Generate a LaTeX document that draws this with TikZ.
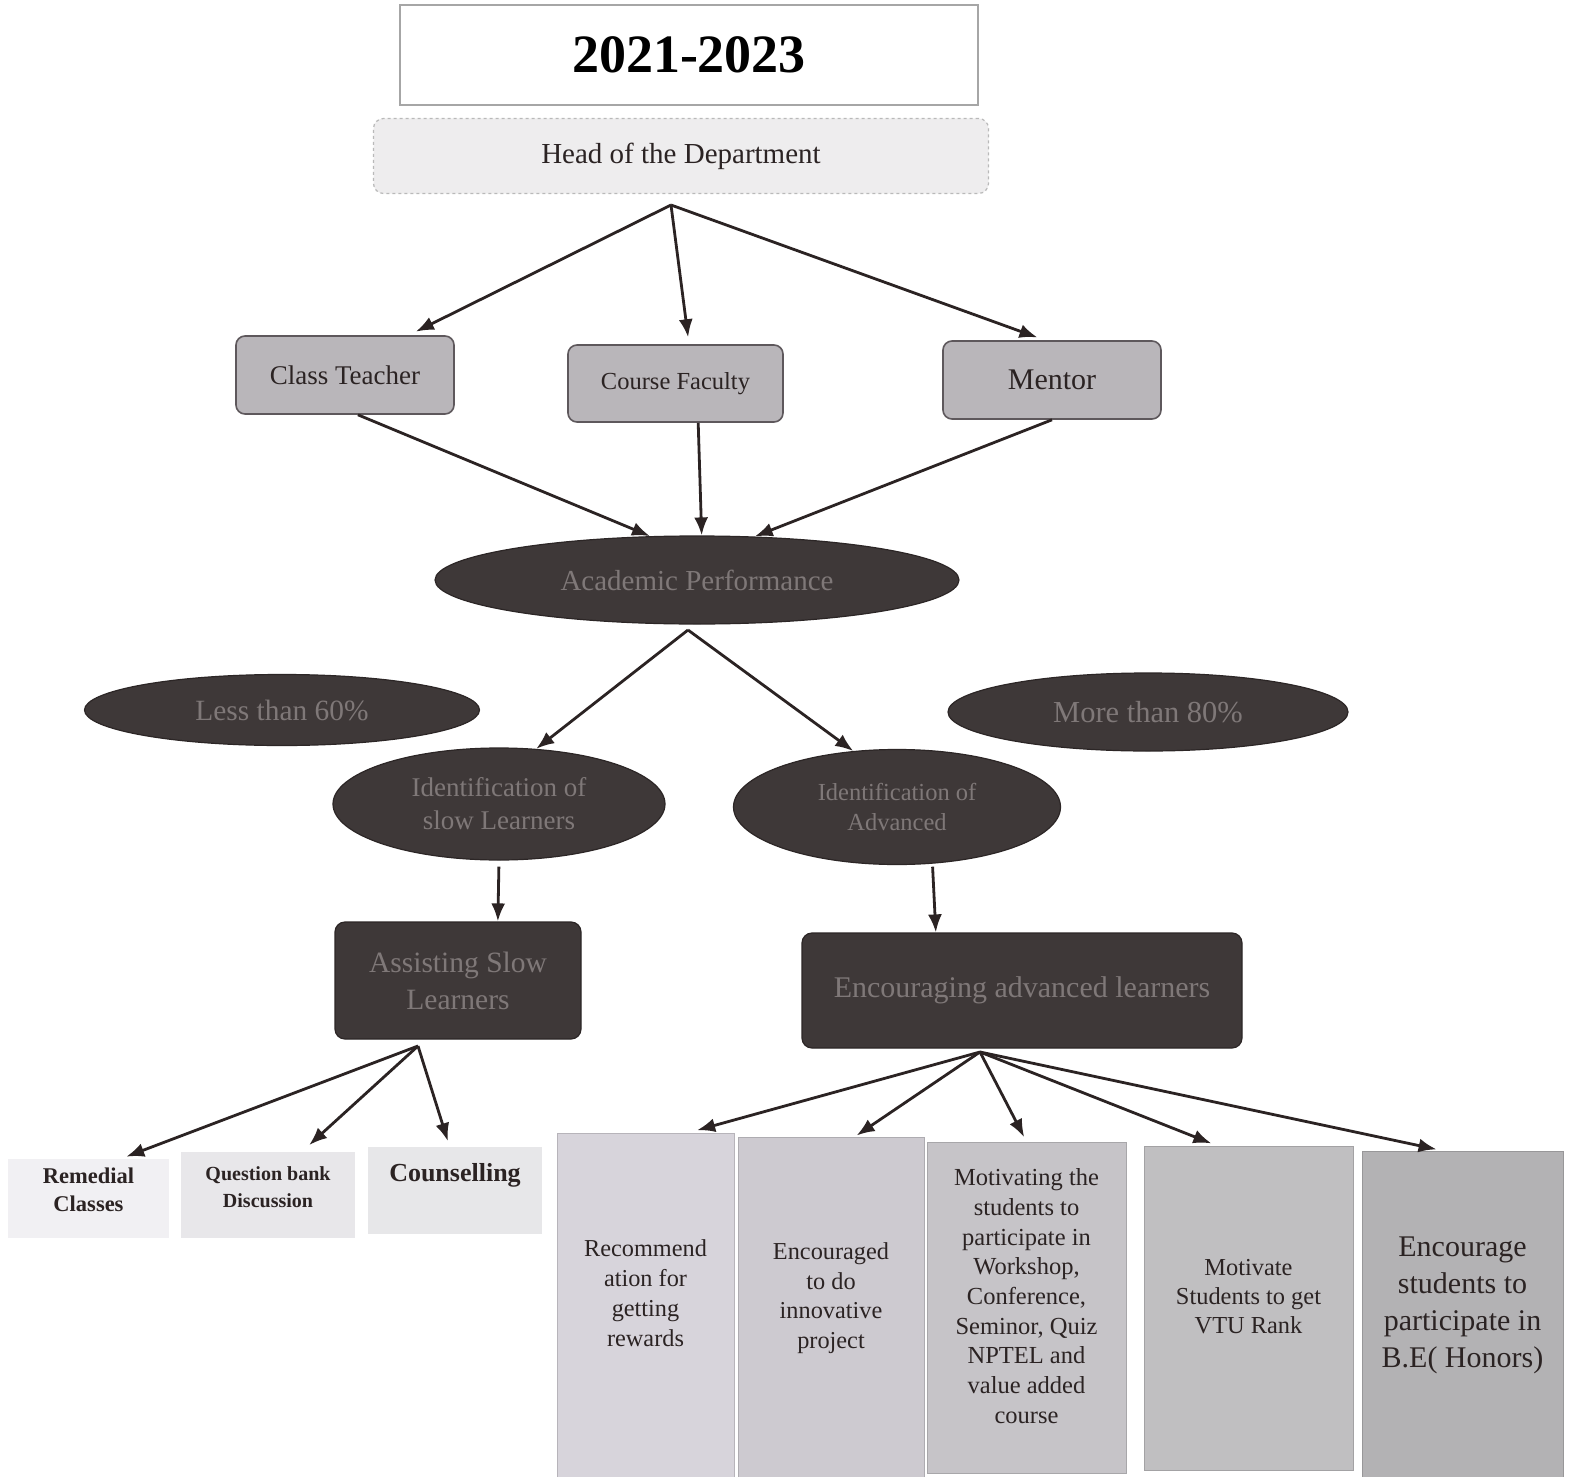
\documentclass[tikz,border=0pt]{standalone}
\usepackage{fontspec}
\setmainfont{Liberation Serif}
\usetikzlibrary{shapes.geometric,arrows.meta}
\definecolor{inkcol}{HTML}{2B2323}
\definecolor{hodcol}{HTML}{EEEDEE}
\definecolor{staffcol}{HTML}{B9B6BA}
\definecolor{edgecol}{HTML}{5E585C}
\definecolor{darkcol}{HTML}{3E3838}
\definecolor{darkedge}{HTML}{2C2626}
\definecolor{dimtext}{HTML}{7F7878}
\definecolor{remcol}{HTML}{F1F0F3}
\definecolor{qbcol}{HTML}{E8E7EA}
\definecolor{cocol}{HTML}{E7E7E9}
\definecolor{rwdcol}{HTML}{D7D4DB}
\definecolor{projcol}{HTML}{CDCAD0}
\definecolor{confcol}{HTML}{C6C4C8}
\definecolor{rankcol}{HTML}{C0BFC1}
\definecolor{honcol}{HTML}{B3B2B4}

\begin{document}
\begin{tikzpicture}[x=1pt,y=-1pt,
	arr/.style={draw=inkcol, line width=2.8pt, -{Latex[length=18pt,width=14pt]}},
	yearbox/.style={rectangle, draw=gray!70, line width=1.2pt, fill=white, inner sep=0pt, text=black},
	hodbox/.style={rectangle, rounded corners=10pt, draw=gray!55, dashed, line width=1.2pt, fill=hodcol, inner sep=0pt, text=inkcol},
	staffbox/.style={rectangle, rounded corners=9pt, draw=edgecol, line width=1.6pt, fill=staffcol, inner sep=0pt, text=inkcol},
	darkoval/.style={ellipse, draw=darkedge, line width=1.2pt, fill=darkcol, inner sep=0pt, text=dimtext, align=center},
	darkbox/.style={rectangle, rounded corners=10pt, draw=darkedge, line width=1.2pt, fill=darkcol, inner sep=0pt, text=dimtext, align=center},
	softbox/.style={rectangle, fill=#1, inner sep=0pt, text=inkcol, align=center},
	tallbox/.style={rectangle, fill=#1, draw=#1!85!black, line width=0.8pt, inner sep=0pt, text=inkcol, align=center, text depth=23pt}]
			\useasboundingbox (0,0) rectangle (1580,1477);
			\fill[white] (0,0) rectangle (1580,1477);
			\node[yearbox, minimum width=578pt, minimum height=100pt, font=\bfseries\fontsize{54}{60}\selectfont] (yr) at (689,55) {2021-2023};
			\node[hodbox, minimum width=615pt, minimum height=75pt, font=\fontsize{29}{34}\selectfont] (hod) at (681,156) {Head of the Department};
			\node[staffbox, minimum width=218pt, minimum height=78pt, font=\fontsize{27}{32}\selectfont] (ct) at (345,375) {Class Teacher};
			\node[staffbox, minimum width=215pt, minimum height=77pt, font=\fontsize{24.5}{30}\selectfont] (cf) at (675.5,383.5) {Course Faculty};
			\node[staffbox, minimum width=218pt, minimum height=78pt, font=\fontsize{30}{35}\selectfont] (men) at (1052,380) {Mentor};
			\node[darkoval, minimum width=524pt, minimum height=88pt, font=\fontsize{29}{34}\selectfont] (ap) at (697,580) {Academic Performance};
			\node[darkoval, minimum width=395pt, minimum height=71pt, font=\fontsize{29.4}{34}\selectfont] (low) at (282,710) {Less than 60\%};
			\node[darkoval, minimum width=400pt, minimum height=78pt, font=\fontsize{30.5}{35}\selectfont] (high) at (1148,712) {More than 80\%};
			\node[darkoval, minimum width=332pt, minimum height=112pt, font=\fontsize{27}{33}\selectfont] (slow) at (499,804) {Identification of\\slow Learners};
			\node[darkoval, minimum width=327pt, minimum height=115pt, font=\fontsize{24.5}{30}\selectfont] (adv) at (897,807) {Identification of\\Advanced};
			\node[darkbox, minimum width=246pt, minimum height=117pt, font=\fontsize{29.5}{37}\selectfont] (assist) at (458,980.5) {Assisting Slow\\Learners};
			\node[darkbox, minimum width=440pt, minimum height=115pt, font=\fontsize{30}{36}\selectfont] (enc) at (1022,990.5) {Encouraging advanced learners};
			\node[softbox=remcol, minimum width=161pt, minimum height=79pt, text depth=18pt, font=\bfseries\fontsize{22.5}{28}\selectfont] (rem) at (88.5,1198.5) {Remedial\\Classes};
			\node[softbox=qbcol, minimum width=174pt, minimum height=86pt, text depth=16pt, font=\bfseries\fontsize{20}{27}\selectfont] (qb) at (268,1195) {Question bank\\Discussion};
			\node[softbox=cocol, minimum width=174pt, minimum height=87pt, text depth=36pt, font=\bfseries\fontsize{26}{30}\selectfont] (co) at (455,1190.5) {Counselling};
			\node[tallbox=rwdcol, minimum width=177pt, minimum height=344pt, font=\fontsize{24.3}{30}\selectfont] (rwd) at (645.5,1305) {Recommend\\ation for\\getting\\rewards};
			\node[tallbox=projcol, minimum width=186pt, minimum height=340pt, font=\fontsize{24.3}{29.5}\selectfont] (proj) at (831,1307) {Encouraged\\to do\\innovative\\project};
			\node[tallbox=confcol, minimum width=199pt, minimum height=331pt, font=\fontsize{24.5}{29.7}\selectfont] (conf) at (1026.5,1307.5) {Motivating the\\students to\\participate in\\Workshop,\\Conference,\\Seminor, Quiz\\NPTEL and\\value added\\course};
			\node[tallbox=rankcol, minimum width=209pt, minimum height=324pt, font=\fontsize{24.4}{29}\selectfont] (rank) at (1248.5,1308) {Motivate\\Students to get\\VTU Rank};
			\node[tallbox=honcol, minimum width=201pt, minimum height=326pt, font=\fontsize{30}{37}\selectfont] (hon) at (1462.5,1314) {Encourage\\students to\\participate in\\B.E( Honors)};
			\coordinate (hodout) at (671,205);
			\coordinate (apout) at (688,630);
			\coordinate (asout) at (418,1046);
			\coordinate (encout) at (980,1052);
			\path (hodout) edge[arr, shorten >=8pt] (ct.32);
			\path (hodout) edge[arr, shorten >=7pt] (cf.71);
			\path (hodout) edge[arr, shorten >=8pt] (men.100);
			\path (ct.-72) edge[arr] (ap.137);
			\path (cf.-60) edge[arr] (ap.84);
			\path (men.south) edge[arr] (ap.37);
			\path (apout) edge[arr] (slow.56);
			\path (apout) edge[arr] (adv.128);
			\path (slow.south) edge[arr, shorten <=6pt] (assist.56);
			\path (adv.-58) edge[arr, shorten <=3pt] (enc.146);
			\path (asout) edge[arr, shorten >=6pt] (rem.51);
			\path (asout) edge[arr, shorten >=10pt] (qb.52);
			\path (asout) edge[arr, shorten >=6pt] (co.97);
			\path (encout) edge[arr, shorten >=9pt] (rwd.76);
			\path (encout) edge[arr, shorten >=2pt] (proj.82);
			\path (encout) edge[arr, shorten >=5pt] (conf.north);
			\path (encout) edge[arr, shorten >=6pt] (rank.101);
			\path (encout) edge[arr, shorten >=6pt] (hon.97);
		\end{tikzpicture}
\end{document}
